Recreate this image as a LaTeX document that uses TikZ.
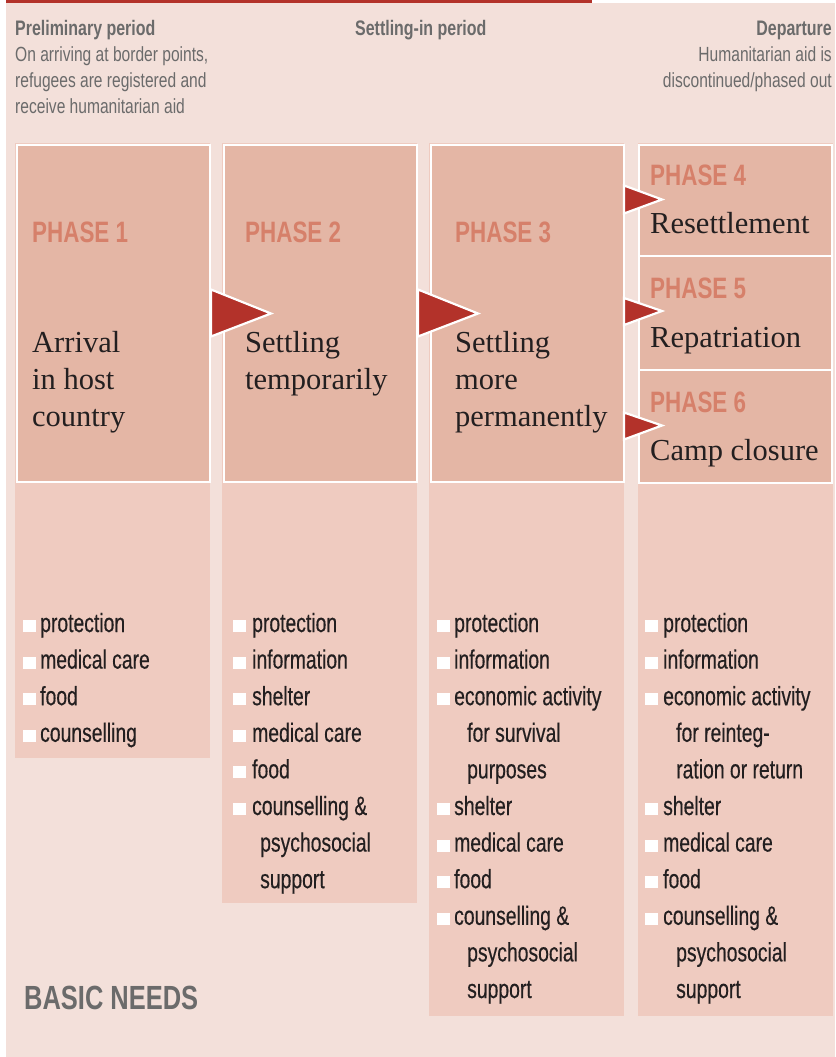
\documentclass[tikz,border=0pt]{standalone}
\usepackage{fontspec}
\setmainfont{Liberation Serif}
\newfontfamily\cond{Liberation Sans}[FakeStretch=0.76]
\newfontfamily\condbody{Liberation Sans}[FakeStretch=0.73,FakeBold=0.35]
\usetikzlibrary{calc}
\definecolor{bgpink}{HTML}{F3E0DA}
\definecolor{colpink}{HTML}{EFCBC0}
\definecolor{boxpink}{HTML}{E4B6A5}
\definecolor{phasecol}{HTML}{D6806A}
\definecolor{redc}{HTML}{B3322A}
\definecolor{graytxt}{HTML}{6B6B6B}
\definecolor{darktxt}{HTML}{231F20}
\newcommand\needlist[4]{%
  \foreach \k/\txt [count=\i] in {#4} {
    \pgfmathsetmacro\yy{632+36.6*(\i-1)}
    \node[item] (#1-\i) at ({#3+\k},\yy) {\txt};
    \ifnum\k=0 \fill[white] (#2,\yy-12) rectangle +(13,12); \fi
  }}
\begin{document}
\begin{tikzpicture}[x=1pt,y=-1pt,
  phasebox/.style={draw=white, line width=2pt, fill=boxpink, anchor=north west, inner sep=0},
  colbg/.style={fill=colpink},
  tri/.style={fill=redc, draw=white, line width=2.2pt, line join=miter},
  phaselbl/.style={anchor=base west, inner sep=0, text=phasecol, font=\cond\bfseries\fontsize{29.5}{30}\selectfont},
  title/.style={anchor=base west, inner sep=0, text=darktxt, font=\fontsize{30.5}{37}\selectfont},
  hdrb/.style={inner sep=0, text=graytxt, font=\cond\bfseries\fontsize{21}{26}\selectfont},
  hdr/.style={inner sep=0, text=graytxt, font=\cond\fontsize{20.5}{26}\selectfont},
  item/.style={anchor=base west, inner sep=0, text=darktxt, font=\condbody\fontsize{26.5}{36.6}\selectfont},
]
\useasboundingbox (0,0) rectangle (835,1057);
\fill[white] (0,0) rectangle (835,1057);
\fill[bgpink] (6,3) rectangle (835,1057);
\fill[redc] (6,0) rectangle (592,3.5);

% header
\node[hdrb, anchor=base west] (pre) at (15,36) {Preliminary period};
\node[hdr, anchor=base west] (pre1) at (15,62) {On arriving at border points,};
\node[hdr, anchor=base west] (pre2) at (15,87.5) {refugees are registered and};
\node[hdr, anchor=base west] (pre3) at (15,113) {receive humanitarian aid};
\node[hdrb, anchor=base west] (set) at (355,36) {Settling-in period};
\node[hdrb, anchor=base east] (dep) at (832,36) {Departure};
\node[hdr, anchor=base east] (dep1) at (832,62) {Humanitarian aid is};
\node[hdr, anchor=base east] (dep2) at (832,87.5) {discontinued/phased out};

% column backgrounds
\fill[colbg] (15,143) rectangle (210,758);
\fill[colbg] (222,143) rectangle (417,903);
\fill[colbg] (429,143) rectangle (624,1016);
\fill[colbg] (638,143) rectangle (833,1016);

% phase boxes
\node[phasebox, minimum width=193pt, minimum height=337pt] (p1) at (16,144) {};
\node[phasebox, minimum width=193pt, minimum height=337pt] (p2) at (223,144) {};
\node[phasebox, minimum width=193pt, minimum height=337pt] (p3) at (430,144) {};
\node[phasebox, minimum width=193pt, minimum height=111pt] (p4) at (638,144) {};
\node[phasebox, minimum width=193pt, minimum height=114pt] (p5) at (638,255) {};
\node[phasebox, minimum width=193pt, minimum height=113pt] (p6) at (638,369) {};

% arrows
\draw[tri] ($(p1.east)+(0,-24)$) -- ($(p1.east)+(60,0)$) -- ($(p1.east)+(0,23)$) -- cycle;
\draw[tri] ($(p2.east)+(0,-24)$) -- ($(p2.east)+(60,0)$) -- ($(p2.east)+(0,23)$) -- cycle;
\draw[tri] ($(p4.west)+(-14,-15)$) -- ($(p4.west)+(24,-1)$) -- ($(p4.west)+(-14,13)$) -- cycle;
\draw[tri] ($(p5.west)+(-14,-15)$) -- ($(p5.west)+(24,-2)$) -- ($(p5.west)+(-14,12)$) -- cycle;
\draw[tri] ($(p6.west)+(-14,-14)$) -- ($(p6.west)+(24,-1)$) -- ($(p6.west)+(-14,13)$) -- cycle;

% phase labels
\node[phaselbl] (l1) at (32,242) {PHASE 1};
\node[phaselbl] (l2) at (245,242) {PHASE 2};
\node[phaselbl] (l3) at (455,242) {PHASE 3};
\node[phaselbl] (l4) at (650,185) {PHASE 4};
\node[phaselbl] (l5) at (650,298) {PHASE 5};
\node[phaselbl] (l6) at (650,412) {PHASE 6};

% titles
\node[title] (t1a) at (32,352) {Arrival};
\node[title] (t1b) at (32,389) {in host};
\node[title] (t1c) at (32,426) {country};
\node[title] (t2a) at (245,352) {Settling};
\node[title] (t2b) at (245,389) {temporarily};
\node[title] (t3a) at (455,352) {Settling};
\node[title] (t3b) at (455,389) {more};
\node[title] (t3c) at (455,426) {permanently};
\node[title] (t4) at (650,233) {Resettlement};
\node[title] (t5) at (650,347) {Repatriation};
\node[title] (t6) at (650,460) {Camp closure};

% needs lists
\needlist{n1}{23}{40}{0/protection,0/medical care,0/food,0/counselling}
\needlist{n2}{233}{252}{0/protection,0/information,0/shelter,0/medical care,0/food,0/counselling \&,8/psychosocial,8/support}
\needlist{n3}{437}{454}{0/protection,0/information,0/economic activity,13/for survival,13/purposes,0/shelter,0/medical care,0/food,0/counselling \&,13/psychosocial,13/support}
\needlist{n4}{645}{663}{0/protection,0/information,0/economic activity,13/for reinteg-,13/ration or return,0/shelter,0/medical care,0/food,0/counselling \&,13/psychosocial,13/support}

\node[anchor=base west, inner sep=0, text=graytxt, font=\cond\bfseries\fontsize{33.5}{36}\selectfont] (bn) at (24,1009) {BASIC NEEDS};
\end{tikzpicture}
\end{document}
